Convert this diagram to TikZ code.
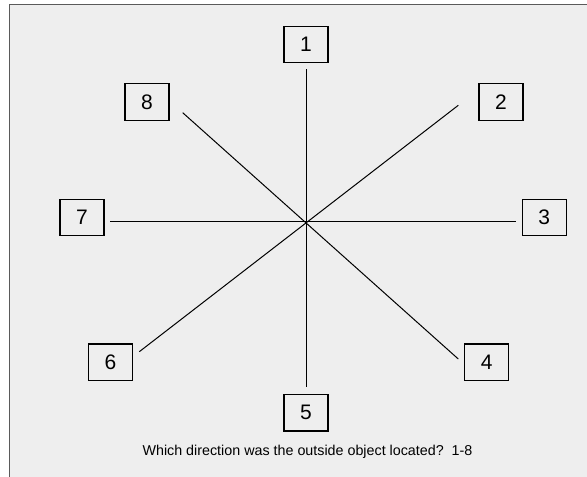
\documentclass[tikz,border=0pt]{standalone}
\usepackage{fontspec}
\setmainfont{Liberation Sans}
\definecolor{bgc}{HTML}{EEEEEE}
\definecolor{framec}{HTML}{5A5A5A}
\begin{document}
\begin{tikzpicture}[x=1pt,y=-1pt,
  numbox/.style={draw=black, fill=bgc, line width=1.2pt, minimum width=44pt, minimum height=36.5pt, inner sep=0pt, font=\fontsize{21}{21}\selectfont},
  ray/.style={draw=black, line width=1pt}]
\useasboundingbox (0,0) rectangle (587,477);
\fill[white] (0,0) rectangle (587,477);
\filldraw[fill=bgc, draw=framec, line width=1pt] (9.5,500) -- (9.5,4.5) -- (600,4.5) -- (600,500) -- cycle;
% boxes
\node[numbox] (n1) at (306,44.5) {1};
\node[numbox] (n2) at (501,102) {2};
\node[numbox] (n3) at (544.3,217.5) {3};
\node[numbox] (n4) at (486.7,362.3) {4};
\node[numbox] (n5) at (306,412.8) {5};
\node[numbox] (n6) at (110.5,362.3) {6};
\node[numbox] (n7) at (82,217.5) {7};
\node[numbox] (n8) at (147,102) {8};
% ray ends
\coordinate (e1) at (306,69);
\coordinate (e5) at (306,387.3);
\coordinate (e7) at (110,221.7);
\coordinate (e3) at (516,221.7);
\coordinate (e8) at (182.7,112.7);
\coordinate (e4) at (458.3,359);
\coordinate (e2) at (458.3,105.3);
\coordinate (e6) at (139.3,351.7);
\draw[ray] (e1) -- (e5);
\draw[ray] (e7) -- (e3);
\draw[ray] (e8) -- (e4);
\draw[ray] (e2) -- (e6);
\node[font=\fontsize{14.3}{16}\selectfont, inner sep=0pt] (q) at (307.5,451.7) {Which direction was the outside object located?\ \ 1-8};
\end{tikzpicture}
\end{document}
